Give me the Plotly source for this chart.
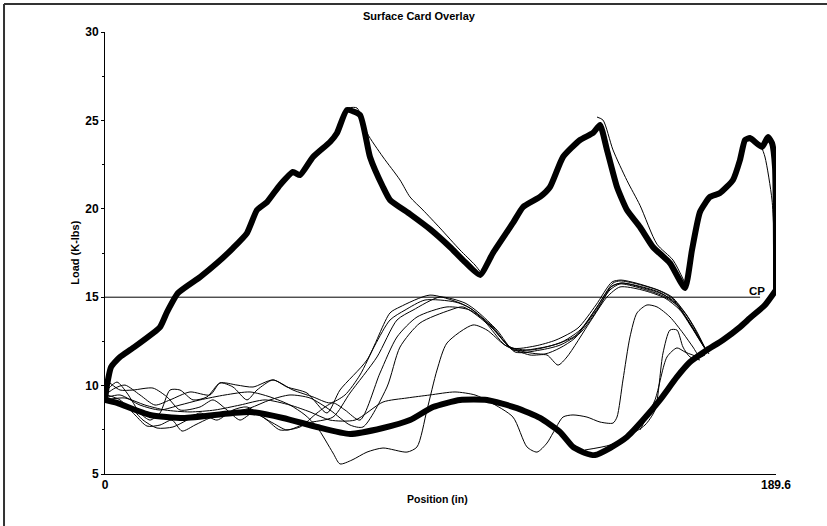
import plotly.graph_objects as go

# ---------------- data (Position in inches, Load in K-lbs) ----------------
# main (repeated) card - upstroke
up_x = [0, 0.57, 1.70, 4.24, 7.91, 15.54, 17.52, 20.63, 26.85, 31.65, 36.17, 40.12, 42.95, 45.78,
        49.45, 53.12, 55.10, 58.77, 63.58, 65.56, 68.38, 72.05, 74.88, 78.55, 80.53, 86.18, 91.83,
        97.48, 101.16, 105.96, 109.63, 115.28, 118.11, 122.91, 125.74, 129.41, 134.22, 137.89,
        139.87, 141.84, 144.67, 147.49, 151.16, 154.83, 159.64, 163.88, 165.86, 168.12, 170.94,
        173.77, 177.44, 179.42, 180.84, 182.25, 185.64, 187.34, 188.47, 189.32, 189.6, 189.6]
up_y = [9.19, 10.03, 11.05, 11.62, 12.13, 13.31, 14.16, 15.24, 16.14, 16.93, 17.78, 18.63, 19.93,
        20.38, 21.35, 22.08, 21.91, 22.93, 23.78, 24.29, 25.59, 25.31, 22.93, 21.23, 20.50, 19.70,
        18.85, 17.84, 17.10, 16.26, 17.50, 19.20, 20.10, 20.67, 21.23, 22.93, 23.89, 24.29, 24.74,
        23.33, 21.23, 19.93, 18.97, 17.84, 16.93, 15.52, 17.67, 19.82, 20.67, 20.89, 21.63, 22.76,
        23.89, 24.00, 23.50, 24.06, 23.72, 22.36, 17.67, 15.41]

# main card - downstroke
down_x = [0, 3.39, 12.72, 22.04, 36.17, 40.97, 50.30, 59.90, 69.23, 78.55, 86.18, 92.68, 100.31,
          107.94, 116.41, 122.91, 128.56, 132.24, 135.63, 138.45, 142.69, 147.49, 152.02, 156.82,
          161.62, 165.30, 170.10, 174.62, 179.42, 182.25, 186.49, 189.6]
down_y = [9.19, 9.02, 8.34, 8.17, 8.45, 8.51, 8.17, 7.66, 7.26, 7.60, 8.05, 8.79, 9.19, 9.19, 8.73,
          8.17, 7.38, 6.53, 6.19, 6.07, 6.47, 7.09, 8.05, 9.19, 10.49, 11.33, 12.01, 12.58, 13.31,
          13.82, 14.56, 15.41]

# upper-stroke variants
var1_x = [68.38, 71.21, 74.03, 78.55, 83.36, 86.18, 89.85, 94.66, 100.31, 104.55, 106.53]
var1_y = [25.70, 25.70, 24.29, 22.93, 21.63, 20.67, 19.93, 18.91, 17.67, 16.82, 16.31]
var2_x = [139.02, 140.71, 143.54, 147.49, 151.16, 155.97, 160.50, 163.88]
var2_y = [25.19, 25.02, 23.33, 21.60, 20.20, 18.00, 17.10, 15.80]
var3_x = [185.07, 186.49, 188.47, 189.32, 189.6]
var3_y = [23.72, 22.93, 20.50, 17.10, 15.41]

# fluid-pound downstrokes
a1_x = [0.57, 3.39, 6.22, 9.89, 12.72, 15.54, 18.37, 21.19, 24.87, 28.82, 32.49, 36.17, 40.12, 42.95,
        47.47, 51.43, 57.08, 62.73, 66.40, 74.03, 80.53, 83.36, 91.83, 100.31, 103.98, 109.63,
        115.28, 122.91, 128.56, 134.22, 139.02, 143.54, 145.52, 150.32, 156.82, 160.50, 164.45,
        167.27, 170.10]
a1_y = [9.75, 10.20, 9.58, 8.45, 8.05, 8.45, 9.75, 9.75, 9.19, 9.36, 10.15, 9.92, 9.19, 9.75, 10.32,
        9.92, 9.58, 8.45, 9.75, 11.45, 14.11, 14.45, 15.12, 14.67, 14.27, 13.31, 12.01, 12.13, 12.41,
        13.14, 14.45, 15.80, 15.92, 15.75, 15.35, 14.90, 13.94, 12.97, 11.90]

a2_x = [1.41, 4.24, 7.91, 13.56, 17.52, 21.19, 26.84, 30.52, 34.47, 38.15, 41.82, 47.47, 51.43, 57.08,
        64.42, 69.23, 76.86, 82.51, 87.03, 94.66, 101.72, 105.39, 110.76, 115.85, 122.91, 128.56,
        134.22, 139.30, 143.25, 146.08, 151.16, 157.38, 161.06, 164.73, 167.56, 170.10]
a2_y = [10.15, 9.75, 9.75, 9.86, 9.36, 8.62, 8.79, 9.19, 8.62, 8.05, 8.45, 7.88, 7.49, 7.88, 8.22,
        9.58, 11.62, 13.71, 14.27, 15.01, 14.67, 14.16, 13.14, 11.90, 12.01, 12.29, 12.97, 14.33,
        15.63, 15.80, 15.58, 15.18, 14.73, 13.71, 12.75, 11.90]

a3_x = [2.26, 7.06, 10.74, 14.69, 19.21, 23.17, 26.84, 31.65, 36.17, 40.12, 45.77, 49.45, 55.10, 59.90,
        64.42, 67.81, 72.05, 77.70, 82.51, 88.16, 96.64, 103.13, 108.79, 114.44, 120.09, 125.74,
        132.80, 138.45, 142.69, 145.52, 151.16, 157.67, 161.91, 165.30, 168.12, 170.38]
a3_y = [9.19, 8.79, 8.05, 7.60, 7.66, 8.05, 8.45, 8.05, 8.62, 8.79, 8.05, 7.49, 7.66, 8.45, 9.02, 8.62,
        8.05, 10.71, 12.75, 13.88, 14.45, 14.27, 13.43, 12.18, 12.01, 12.24, 12.80, 14.16, 15.41,
        15.75, 15.52, 15.07, 14.50, 13.48, 12.58, 11.84]

a4_x = [0.57, 4.24, 8.48, 11.87, 15.54, 18.93, 21.76, 25.43, 29.67, 35.32, 40.97, 46.62, 52.27, 57.92,
        63.58, 69.23, 72.90, 79.68, 83.36, 89.01, 97.48, 101.16, 107.37, 113.02, 120.09, 124.89,
        128.00, 130.54, 137.04, 141.85, 145.52, 151.73, 158.23, 162.47, 165.86, 168.69, 170.67]
a4_y = [9.47, 9.19, 8.34, 7.71, 7.77, 8.05, 7.43, 7.77, 8.17, 8.45, 8.73, 9.19, 9.47, 9.30, 8.62, 7.77,
        7.66, 9.92, 12.18, 13.54, 14.27, 14.45, 13.60, 12.29, 11.73, 11.73, 11.16, 11.62, 13.60,
        15.01, 15.58, 15.41, 14.95, 14.27, 13.26, 12.35, 11.79]

a5_x = [0, 2.83, 5.65, 9.89, 14.13, 18.37, 24.02, 29.67, 32.49, 37.30, 41.82, 47.47, 53.12, 58.77,
        63.58, 67.81, 72.05, 76.29, 80.53, 84.77, 90.42, 98.90, 103.13, 109.35, 115.00, 121.50,
        127.43, 133.65, 138.74, 143.25, 145.80, 150.04, 156.25, 160.21, 164.16, 166.99, 169.82]
a5_y = [9.47, 9.86, 10.03, 9.47, 8.90, 9.19, 9.64, 9.47, 10.15, 10.03, 9.92, 10.32, 9.75, 9.36, 9.02,
        9.47, 10.60, 12.29, 13.71, 14.27, 14.84, 14.73, 14.39, 13.26, 12.13, 12.24, 12.58, 13.26,
        14.56, 15.86, 15.97, 15.80, 15.41, 15.01, 14.05, 13.14, 12.01]

b_x = [0, 4.24, 9.89, 15.54, 21.19, 26.84, 33.91, 40.97, 46.62, 52.27, 56.51, 59.90, 64.42, 66.40,
       69.79, 74.03, 78.55, 85.33, 88.16, 90.98, 93.81, 96.64, 103.98, 107.94, 113.02, 118.68,
       124.33, 128.56, 132.80, 138.45, 142.97, 145.80, 150.89, 157.10, 161.34, 165.01, 167.84, 170.10]
b_y = [9.30, 9.47, 8.90, 8.62, 8.90, 9.19, 9.47, 9.64, 9.36, 8.90, 8.34, 7.66, 6.19, 5.57, 5.79, 6.24,
       6.47, 6.24, 6.53, 8.62, 10.88, 12.41, 13.43, 13.14, 12.29, 11.90, 11.79, 12.13, 12.69, 14.27,
       15.58, 15.80, 15.63, 15.24, 14.61, 13.60, 12.69, 11.90]

c_x = [0, 5.65, 11.30, 16.95, 24.02, 31.08, 38.15, 45.21, 52.27, 57.92, 63.58, 70.64, 78.55, 85.33,
       91.83, 98.90, 104.55, 108.79, 115.28, 119.24, 122.07, 124.89, 126.59, 129.41, 132.24, 136.19,
       139.87, 143.54, 144.67, 146.36, 148.34, 150.32, 153.14, 155.97, 159.65, 163.32, 166.14,
       168.12, 169.54]
c_y = [9.19, 9.30, 8.90, 8.62, 8.51, 8.62, 8.90, 9.19, 8.90, 8.51, 8.05, 8.05, 9.07, 9.30, 9.47, 9.64,
       9.47, 9.07, 8.22, 6.53, 6.24, 6.75, 7.32, 8.22, 8.34, 8.22, 7.94, 7.88, 8.22, 10.32, 12.75,
       14.11, 14.56, 14.45, 13.88, 12.97, 12.18, 11.62, 11.73]

d_x = [135.63, 142.69, 148.34, 152.58, 155.41, 157.67, 159.65, 161.62, 163.32, 165.30, 168.12]
d_y = [6.36, 6.64, 7.21, 7.77, 8.62, 11.84, 13.14, 13.14, 12.18, 11.62, 11.45]

e_x = [151.16, 155.41, 158.80, 161.62, 163.88, 166.71]
e_y = [7.49, 9.19, 11.62, 12.13, 11.90, 11.68]

cp_load = 15
cp_end = 185.1
x_max = 189.6
y_ticks = [5, 10, 15, 20, 25, 30]

# ---------------- figure ----------------
fig = go.Figure()
BOLD = dict(family="Liberation Sans, Arial, sans-serif", color="black", weight="bold")

thin = [(var1_x, var1_y), (var2_x, var2_y), (var3_x, var3_y),
        (a1_x, a1_y), (a2_x, a2_y), (a3_x, a3_y), (a4_x, a4_y), (a5_x, a5_y),
        (b_x, b_y), (c_x, c_y), (d_x, d_y), (e_x, e_y)]
for xs, ys in thin:
    fig.add_trace(go.Scatter(x=xs, y=ys, mode="lines", showlegend=False, hoverinfo="skip",
                             line=dict(color="black", width=1, shape="spline", smoothing=0.7)))

for xs, ys in [(up_x, up_y), (down_x, down_y)]:
    fig.add_trace(go.Scatter(x=xs, y=ys, mode="lines", showlegend=False, hoverinfo="skip",
                             line=dict(color="black", width=6, shape="spline", smoothing=0.5)))

# CP line
fig.add_trace(go.Scatter(x=[0, cp_end], y=[cp_load, cp_load], mode="lines", showlegend=False,
                         hoverinfo="skip", line=dict(color="black", width=1)))

frame = dict(color="#333333", width=2)
fig.update_layout(
    width=827, height=526, autosize=False,
    margin=dict(l=105, r=51, t=32, b=52, pad=0),
    paper_bgcolor="white", plot_bgcolor="white",
    xaxis=dict(range=[0, x_max], showgrid=False, zeroline=False, showline=True,
               linecolor="black", linewidth=1, ticks="inside", ticklen=4, tickcolor="black",
               tickvals=[0, x_max], ticktext=["0", "189.6"], tickfont=dict(size=12, **BOLD)),
    yaxis=dict(range=[5, 30], showgrid=False, zeroline=False, showline=True,
               linecolor="black", linewidth=1, ticks="outside", ticklen=3, tickcolor="black",
               tickvals=y_ticks, tickfont=dict(size=12, **BOLD),
               minor=dict(dtick=2.5, ticks="outside", ticklen=2, tickcolor="black")),
    annotations=[
        dict(text="Surface Card Overlay", xref="paper", yref="paper", x=0.468, y=1.036,
             showarrow=False, xanchor="center", yanchor="middle", font=dict(size=11, **BOLD)),
        dict(text="Position (in)", xref="paper", yref="paper", x=0.495, y=-0.057,
             showarrow=False, xanchor="center", yanchor="middle", font=dict(size=10.5, **BOLD)),
        dict(text="Load (K-lbs)", xref="paper", yref="paper", x=-0.045, y=0.5, textangle=-90,
             showarrow=False, xanchor="center", yanchor="middle", font=dict(size=11, **BOLD)),
        dict(text="CP", x=184.2, y=cp_load, xref="x", yref="y", showarrow=False,
             xanchor="center", yanchor="bottom", yshift=-2, font=dict(size=11.5, **BOLD)),
    ],
    shapes=[
        dict(type="line", xref="paper", yref="paper", x0=-0.1505, x1=1.2, y0=1.0633, y1=1.0633,
             line=frame, layer="above"),
        dict(type="line", xref="paper", yref="paper", x0=-0.1505, x1=-0.1505, y0=-0.3, y1=1.0633,
             line=frame, layer="above"),
    ],
)

fig.write_html("out.html")
